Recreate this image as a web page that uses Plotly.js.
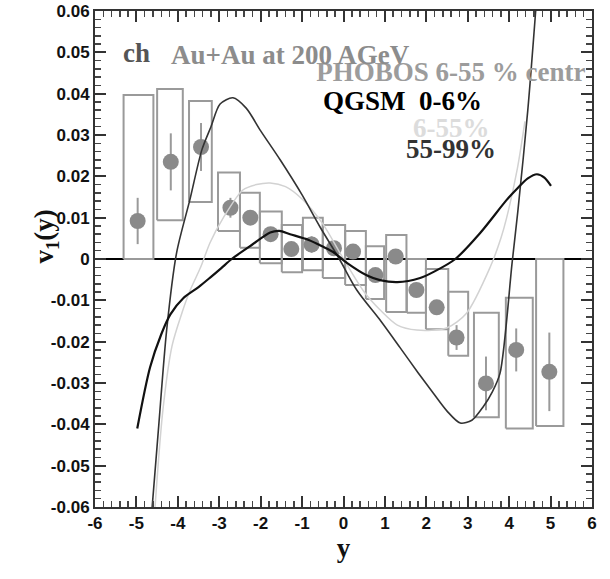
<!DOCTYPE html>
<html>
<head>
<meta charset="utf-8">
<script src="https://cdn.plot.ly/plotly-3.0.1.min.js"></script>
<style>
  html, body { margin: 0; padding: 0; background: #fff; }
  #chart { width: 610px; height: 579px; }
</style>
</head>
<body>
<div id="chart"></div>
<script>
// PHOBOS charged-particle v1 vs rapidity (6-55% centrality)
const phobosY   = [-4.97, -4.17, -3.44, -2.73, -2.25, -1.76, -1.26, -0.77, -0.23, 0.23, 0.77, 1.26, 1.76, 2.25, 2.73, 3.44, 4.17, 4.97];
const phobosV1  = [0.0092, 0.0235, 0.0271, 0.0124, 0.0100, 0.0060, 0.0024, 0.0035, 0.0026, 0.0018, -0.0039, 0.0006, -0.0075, -0.0117, -0.0190, -0.0301, -0.0220, -0.0273];
const phobosErr = [0.0056, 0.0069, 0.0058, 0.0024, 0.0015, 0.0015, 0.0015, 0.0020, 0.0015, 0.0015, 0.0015, 0.0015, 0.0015, 0.0015, 0.0030, 0.0065, 0.0052, 0.0095];

// systematic-uncertainty boxes
const boxLeft  = [-5.31, -4.50, -3.73, -3.03, -2.50, -2.02, -1.49, -0.98, -0.50, 0.04, 0.54, 1.03, 1.53, 1.99, 2.53, 3.15, 3.92, 4.65];
const boxRight = [-4.59, -3.88, -3.18, -2.50, -2.02, -1.49, -1.00, -0.50, 0.04, 0.54, 0.98, 1.52, 1.99, 2.53, 3.01, 3.75, 4.57, 5.31];
const boxLow   = [0.0, 0.0094, 0.0138, 0.0068, 0.0027, -0.0010, -0.0032, -0.0027, -0.0046, -0.0063, -0.0097, -0.0128, -0.0130, -0.0170, -0.0234, -0.0383, -0.0410, -0.0404];
const boxHigh  = [0.0397, 0.0411, 0.0382, 0.0209, 0.0160, 0.0115, 0.0082, 0.0100, 0.0082, 0.0068, 0.0031, 0.0058, 0.0, -0.0024, -0.0079, -0.0130, -0.0094, 0.0];

// QGSM calculations
const qgsmCentralY  = [-4.62, -4.47, -4.27, -4.03, -3.71, -3.42, -3.20, -2.98, -2.67, -2.35, -2.00, -1.53, -1.00, -0.57, -0.10, 0.32, 0.90, 1.37, 1.80, 2.17, 2.50, 2.82, 3.10, 3.37, 3.60, 3.78, 4.07, 4.21, 4.45, 4.64];
const qgsmCentralV1 = [-0.060, -0.0414, -0.0172, 0.0015, 0.0143, 0.0264, 0.0320, 0.0375, 0.0390, 0.0365, 0.0310, 0.0240, 0.0155, 0.0078, 0.0, -0.0075, -0.0150, -0.0215, -0.0275, -0.0325, -0.0368, -0.0397, -0.0390, -0.0358, -0.0320, -0.0276, -0.0010, 0.0116, 0.0360, 0.0600];

const qgsmMidY  = [-4.55, -4.36, -4.14, -3.90, -3.70, -3.45, -3.22, -2.90, -2.43, -2.10, -1.77, -1.40, -1.00, -0.50, 0.0, 0.50, 0.88, 1.30, 1.77, 2.49, 2.97, 3.54, 3.80, 3.94, 4.20, 4.38];
const qgsmMidV1 = [-0.060, -0.0365, -0.0210, -0.0130, -0.0075, -0.0020, 0.0040, 0.0100, 0.0167, 0.0180, 0.0184, 0.0175, 0.0145, 0.0085, 0.0, -0.0080, -0.0123, -0.0160, -0.0172, -0.0167, -0.0131, -0.0020, 0.0050, 0.0100, 0.0220, 0.0333];

const qgsmPeriphY  = [-4.98, -4.67, -4.40, -4.18, -3.87, -3.50, -3.22, -2.95, -2.70, -2.20, -1.77, -1.55, -1.29, -0.84, -0.50, -0.25, 0.09, 0.57, 0.88, 1.30, 1.85, 2.20, 2.70, 3.30, 3.94, 4.19, 4.45, 4.67, 4.85, 5.01];
const qgsmPeriphV1 = [-0.0410, -0.0262, -0.0182, -0.0134, -0.0095, -0.0068, -0.0045, -0.0022, 0.0, 0.0035, 0.0064, 0.0068, 0.0060, 0.0046, 0.0030, 0.0017, -0.0010, -0.0040, -0.0051, -0.0056, -0.0046, -0.0030, 0.0, 0.0063, 0.0143, 0.0170, 0.0195, 0.0205, 0.0197, 0.0177];

// axis ticks
const xTickVals = [-6, -5, -4, -3, -2, -1, 0, 1, 2, 3, 4, 5, 6];
const xTickText = ['-6', '-5', '-4', '-3', '-2', '-1', '0', '1', '2', '3', '4', '5', '6'];
const yTickVals = [-0.06, -0.05, -0.04, -0.03, -0.02, -0.01, 0, 0.01, 0.02, 0.03, 0.04, 0.05, 0.06];
const yTickText = ['-0.06', '-0.05', '-0.04', '-0.03', '-0.02', '-0.01', '0', '0.01', '0.02', '0.03', '0.04', '0.05', '0.06'];

// closed rectangles, one per bin, separated by gaps
const boxX = [], boxY = [];
for (let i = 0; i < boxLeft.length; i++) {
  boxX.push(boxLeft[i], boxRight[i], boxRight[i], boxLeft[i], boxLeft[i], null);
  boxY.push(boxLow[i], boxLow[i], boxHigh[i], boxHigh[i], boxLow[i], null);
}
const bold = s => '<b>' + s + '</b>';

const serif = 'Liberation Serif, Times New Roman, serif';
const sans = 'Liberation Sans, Arial, sans-serif';

const traces = [
  {
    x: boxX, y: boxY, mode: 'lines', type: 'scatter',
    line: { color: '#9a9a9a', width: 2 }, hoverinfo: 'skip'
  },
  {
    x: phobosY, y: phobosV1, mode: 'markers', type: 'scatter',
    marker: { color: '#8a8a8a', size: 16 },
    error_y: { type: 'data', array: phobosErr, visible: true, color: '#9a9a9a', thickness: 2, width: 0 }
  },
  {
    x: qgsmMidY, y: qgsmMidV1, mode: 'lines', type: 'scatter',
    line: { color: '#d2d2d2', width: 1.5, shape: 'spline', smoothing: 0.8 }
  },
  {
    x: qgsmCentralY, y: qgsmCentralV1, mode: 'lines', type: 'scatter',
    line: { color: '#333333', width: 1.6, shape: 'spline', smoothing: 0.8 }
  },
  {
    x: qgsmPeriphY, y: qgsmPeriphV1, mode: 'lines', type: 'scatter',
    line: { color: '#111111', width: 2.2, shape: 'spline', smoothing: 0.8 }
  },
  {
    // label clipped at the frame edge
    x: [-0.66], y: [0.0448], mode: 'text', type: 'scatter',
    text: ['<b>PHOBOS 6-55 % centr</b>'], textposition: 'middle right',
    textfont: { family: serif, size: 27, color: '#9c9c9c' },
    cliponaxis: true, hoverinfo: 'skip'
  }
];

const layout = {
  width: 610, height: 579,
  margin: { l: 95, r: 18, t: 11, b: 72 },
  paper_bgcolor: '#fff', plot_bgcolor: '#fff',
  showlegend: false,
  xaxis: {
    range: [-6, 6], showline: true, linecolor: '#333', linewidth: 2, mirror: 'allticks',
    ticks: 'inside', ticklen: 11, tickwidth: 2, tickcolor: '#333',
    tickmode: 'array', tickvals: xTickVals, ticktext: xTickText.map(bold),
    tickfont: { family: sans, size: 17, color: '#111' },
    showgrid: false, zeroline: false,
    minor: { tickmode: 'linear', tick0: 0, dtick: 0.2, ticks: 'inside', ticklen: 6, tickwidth: 1.5, tickcolor: '#444' },
    title: { text: '<b>y</b>', font: { family: serif, size: 27, color: '#111' }, standoff: 4 }
  },
  yaxis: {
    range: [-0.06, 0.06], showline: true, linecolor: '#333', linewidth: 2, mirror: 'allticks',
    ticks: 'inside', ticklen: 11, tickwidth: 2, tickcolor: '#333',
    tickmode: 'array', tickvals: yTickVals, ticktext: yTickText.map(bold),
    tickfont: { family: sans, size: 17, color: '#111' },
    showgrid: false, zeroline: true, zerolinecolor: '#000', zerolinewidth: 2,
    minor: { tickmode: 'linear', tick0: 0, dtick: 0.002, ticks: 'inside', ticklen: 6, tickwidth: 1.5, tickcolor: '#444' }
  },
  annotations: [
    { xref: 'paper', yref: 'paper', x: -0.137, y: 0.545, textangle: -90, showarrow: false,
      text: '<b>v<sub>1</sub>(y)</b>', font: { family: serif, size: 27, color: '#111' } },
    { xref: 'x', yref: 'y', x: -5.37, y: 0.0499, xanchor: 'left', yanchor: 'middle', showarrow: false,
      text: '<b>ch</b>', font: { family: serif, size: 27, color: '#555' } },
    { xref: 'x', yref: 'y', x: -4.21, y: 0.0494, xanchor: 'left', yanchor: 'middle', showarrow: false,
      text: '<b>Au+Au at 200 AGeV</b>', font: { family: serif, size: 27, color: '#8c8c8c' } },
    { xref: 'x', yref: 'y', x: -0.55, y: 0.0382, xanchor: 'left', yanchor: 'middle', showarrow: false,
      text: '<b>QGSM\u00a0 0-6%</b>', font: { family: serif, size: 27, color: '#000' } },
    { xref: 'x', yref: 'y', x: 1.63, y: 0.0317, xanchor: 'left', yanchor: 'middle', showarrow: false,
      text: '<b>6-55%</b>', font: { family: serif, size: 27, color: '#dcdcdc' } },
    { xref: 'x', yref: 'y', x: 1.46, y: 0.0266, xanchor: 'left', yanchor: 'middle', showarrow: false,
      text: '<b>55-99%</b>', font: { family: serif, size: 27, color: '#333' } }
  ]
};

Plotly.newPlot('chart', traces, layout, { displayModeBar: false, staticPlot: true });
</script>
</body>
</html>
